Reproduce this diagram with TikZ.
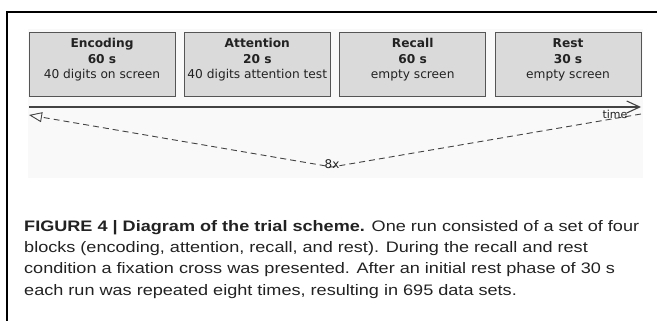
\documentclass[tikz,border=0pt]{standalone}
\usepackage{fontspec}
\setmainfont{Liberation Sans}[FakeStretch=1.19]
\newfontfamily\boxfont{DejaVu Sans}
\usetikzlibrary{arrows.meta}
\definecolor{boxfill}{RGB}{218,218,218}
\definecolor{boxline}{RGB}{85,85,85}
\definecolor{ink}{RGB}{34,34,34}
\definecolor{bg}{RGB}{249,249,249}
\tikzset{
  blk/.style={draw=boxline, fill=boxfill, line width=0.8pt, minimum width=146pt, minimum height=64pt, inner sep=0pt},
  bt/.style={font=\boxfont\fontsize{12.2}{14}\selectfont, text=ink, inner sep=0pt, anchor=base},
  captext/.style={font=\fontsize{15.2}{18}\selectfont, text=ink, inner sep=0pt, anchor=base west},
  axisline/.style={draw=ink!85, line width=1.1pt},
  dashline/.style={draw=ink!85, line width=0.9pt, dash pattern=on 6pt off 4pt}
}
\begin{document}
\begin{tikzpicture}[x=1pt,y=-1pt]
\useasboundingbox (0,0) rectangle (657,321);
\fill[bg] (28,29) rectangle (643,178);
\draw[line width=2pt] (7,321) -- (7,11.8) -- (657,11.8);
% boxes
\node[blk] (enc) at (102,64) {};
\node[blk] (att) at (257.3,64) {};
\node[blk] (rec) at (412.7,64) {};
\node[blk] (rst) at (568,64) {};
\node[bt] (encA) at (102,48) {\bfseries Encoding};
\node[bt] (encB) at (102,64) {\bfseries 60 s};
\node[bt] (encC) at (102,79) {40 digits on screen};
\node[bt] (attA) at (257.3,48) {\bfseries Attention};
\node[bt] (attB) at (257.3,64) {\bfseries 20 s};
\node[bt] (attC) at (257.3,79) {40 digits attention test};
\node[bt] (recA) at (412.7,48) {\bfseries Recall};
\node[bt] (recB) at (412.7,64) {\bfseries 60 s};
\node[bt] (recC) at (412.7,79) {empty screen};
\node[bt] (rstA) at (568,48) {\bfseries Rest};
\node[bt] (rstB) at (568,64) {\bfseries 30 s};
\node[bt] (rstC) at (568,79) {empty screen};
% time axis
\coordinate (axL) at (29,107);
\coordinate (axR) at (641,107);
\draw[axisline, -{Straight Barb[length=13pt,width=12pt,line width=1.1pt]}] (axL) -- (axR);
% repetition
\coordinate (dR) at (641,114);
\coordinate (v) at (332,167);
\coordinate (dL) at (29,115);
\draw[dashline, -{Triangle[open,length=13pt,width=10pt,line width=0.9pt,sep=0pt]}] (dR) -- (v) -- (dL);
\node[bt, font=\boxfont\fontsize{11}{13}\selectfont] (time) at (615,118) {time};
\node[bt, font=\boxfont\fontsize{12}{14}\selectfont] (rep) at (332,168) {8x};
% caption
\node[captext] (c1) at (24,231.7) {\textbf{FIGURE 4 | Diagram of the trial scheme.} One run consisted of a set of four};
\node[captext] (c2) at (24,252.8) {blocks (encoding, attention, recall, and rest). During the recall and rest};
\node[captext] (c3) at (24,273.9) {condition a fixation cross was presented. After an initial rest phase of 30 s};
\node[captext] (c4) at (24,295) {each run was repeated eight times, resulting in 695 data sets.};
\end{tikzpicture}
\end{document}
